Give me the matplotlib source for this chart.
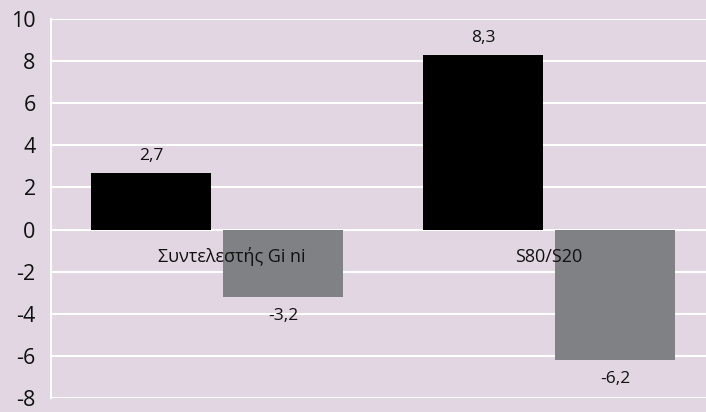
import matplotlib.pyplot as plt
import numpy as np

categories = ['Συντελεστής Gi ni', 'S80/S20']
series_a = [2.7, 8.3]
series_b = [-3.2, -6.2]
a_labels = ['2,7', '8,3']
b_labels = ['-3,2', '-6,2']
yticks = [-8, -6, -4, -2, 0, 2, 4, 6, 8, 10]

bg = '#e1d6e2'
plt.rcParams['font.family'] = ['Open Sans', 'DejaVu Sans']

fig = plt.figure(figsize=(7.06, 4.12), dpi=100, facecolor=bg)
ax = fig.add_axes([51 / 706, 14 / 412, 1 - 51 / 706, 379 / 412])
ax.set_facecolor(bg)

x = np.arange(len(categories))
w = 0.361
off = 0.199
ax.bar(x - off, series_a, w, color='black', zorder=3)
ax.bar(x + off, series_b, w, color='#808184', zorder=3)

for xi, v, lab in zip(x, series_a, a_labels):
    ax.annotate(lab, (xi - off, v), xytext=(0, 6), textcoords='offset points',
                ha='center', va='bottom', fontsize=12.5, color='#111111', zorder=4)
for xi, v, lab in zip(x, series_b, b_labels):
    ax.annotate(lab, (xi + off, v), xytext=(0, -8), textcoords='offset points',
                ha='center', va='top', fontsize=12.5, color='#111111', zorder=4)

for xi, cat in zip(x, categories):
    ax.text(xi + (0.045 if xi == 0 else 0.0), -1.3, cat, ha='center', va='center',
            fontsize=13, color='#111111', zorder=4)

ax.set_xlim(-0.5, 1.473)
ax.set_ylim(-8, 10)
ax.set_yticks(yticks)
ax.set_yticklabels([str(t) for t in yticks], fontsize=15.5, color='#111111')
ax.set_xticks([])
ax.tick_params(axis='y', length=0, pad=11)
ax.grid(axis='y', color='white', linewidth=1.5, zorder=1)
for s in ['top', 'right', 'bottom']:
    ax.spines[s].set_visible(False)
ax.spines['left'].set_color('white')
ax.spines['left'].set_linewidth(1.5)

fig.savefig('out.png', dpi=100, facecolor=bg)
